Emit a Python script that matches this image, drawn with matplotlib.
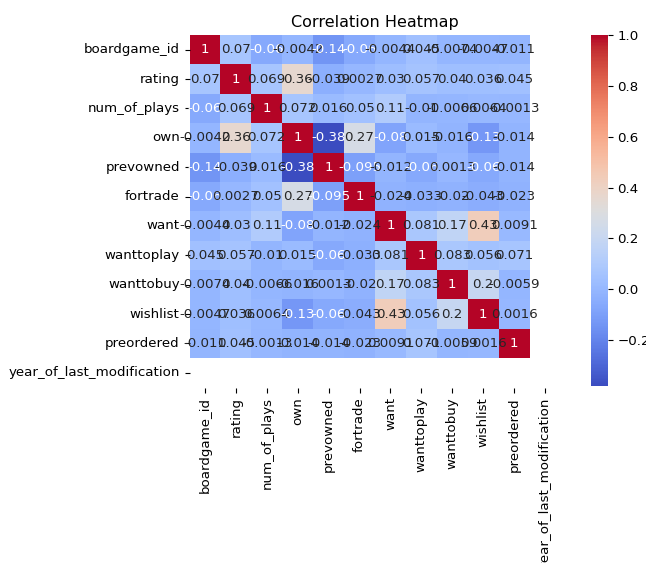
import matplotlib
matplotlib.use("Agg")
import matplotlib.pyplot as plt
import numpy as np
import pandas as pd
import seaborn as sns

labels = ["boardgame_id", "rating", "num_of_plays", "own", "prevowned", "fortrade",
          "want", "wanttoplay", "wanttobuy", "wishlist", "preordered",
          "year_of_last_modification"]

# lower triangle of the correlation matrix (row by row), year column is all NaN
corr_rows = [
    [1],
    [0.07, 1],
    [-0.06, 0.069, 1],
    [-0.0042, 0.36, 0.072, 1],
    [-0.14, -0.039, 0.016, -0.38, 1],
    [-0.06, 0.0027, 0.05, 0.27, -0.095, 1],
    [-0.0044, 0.03, 0.11, -0.08, -0.012, -0.024, 1],
    [0.045, 0.057, -0.01, 0.015, -0.06, -0.033, 0.081, 1],
    [-0.0074, 0.04, -0.0066, -0.016, 0.0013, -0.02, 0.17, 0.083, 1],
    [-0.0047, 0.036, 0.0064, -0.13, -0.06, -0.043, 0.43, 0.056, 0.2, 1],
    [-0.011, 0.045, -0.0013, -0.014, -0.014, -0.023, 0.0091, 0.071, -0.0059, 0.0016, 1],
]

n = len(labels)
mat = np.full((n, n), np.nan)
for i, row in enumerate(corr_rows):
    for j, v in enumerate(row):
        mat[i, j] = v
        mat[j, i] = v
corr = pd.DataFrame(mat, index=labels, columns=labels)

plt.rcParams["font.size"] = 9.6

fig = plt.figure(figsize=(6.46, 5.63), dpi=100)
W, H = 646, 563
ax = fig.add_axes([189.5 / W, 1 - 387.5 / H, 371 / W, 352.5 / H])
cax = fig.add_axes([591 / W, 1 - 386 / H, 16.5 / W, 351 / H])

sns.heatmap(corr, annot=True, cmap="coolwarm", ax=ax, cbar_ax=cax)
ax.set_title("Correlation Heatmap", fontsize=11.5)

fig.savefig("out.png", dpi=100)
